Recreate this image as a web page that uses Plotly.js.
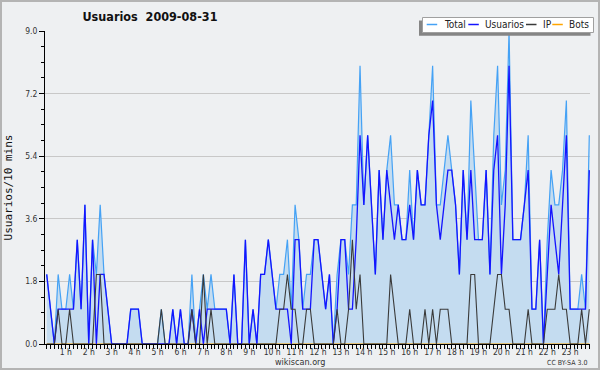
<!DOCTYPE html>
<html><head><meta charset="utf-8">
<script src="https://cdn.plot.ly/plotly-3.0.1.min.js"></script>
<style>
html,body{margin:0;padding:0;background:#eef0f2;}
#wrap{position:relative;width:600px;height:370px;overflow:hidden;}
#chart{width:600px;height:370px;}
#frame{position:absolute;left:0;top:0;width:596px;height:366px;border:2px solid #b4b4b4;pointer-events:none;}
</style></head><body>
<div id="wrap"><div id="chart"></div><div id="frame"></div></div>
<script>
// 10-minute slots, 0:10 .. 23:50 (143 slots)
const slotCount = 143;
const usuarios = [2,1,0,1,1,1,1,1,3,1, 4,0,3,0,2,2,1,0,0,0, 0,0,1,1,1,0,0,0,0,0, 0,0,0,1,0,1,0,0,1,0,
  1,0,1,1,1,1,1,1,0,2, 0,0,3,0,1,0,2,2,3,2, 1,1,1,1,0,3,3,1,1,1, 3,3,2,1,2,0,1,3,3,1,
  1,3,6,4,6,4,2,5,3,5, 4,3,4,3,3,4,3,5,4,4, 6,7,4,3,4,5,5,4,2,5, 3,5,3,3,3,5,2,5,6,2,
  4,8,3,3,3,4,5,1,1,3, 0,2,4,3,2,4,6,1,1,1, 1,1,5];
const total = [2,1,0,2,1,1,2,1,3,1, 4,0,3,2,4,2,1,0,0,0, 0,0,1,1,1,0,0,0,0,0, 1,0,0,1,0,1,0,0,2,0,
  1,2,1,2,1,1,1,1,0,2, 0,0,3,0,1,0,2,2,3,2, 1,2,2,3,1,4,3,1,2,2, 3,3,2,1,2,0,2,3,3,2,
  4,4,8,4,6,4,2,5,3,5, 6,4,4,3,3,5,3,5,4,4, 6,8,4,4,5,6,5,4,2,5, 3,7,5,3,3,5,2,6,8,4,
  5,9,3,3,3,4,6,1,1,3, 0,3,5,4,4,5,7,1,1,1, 2,1,6];
const ip = [0,0,0,1,0,0,1,0,0,0, 0,0,0,2,2,0,0,0,0,0, 0,0,0,0,0,0,0,0,0,0, 1,0,0,0,0,0,0,0,1,0,
  0,2,0,1,0,0,0,0,0,0, 0,0,0,0,0,0,0,0,0,0, 0,1,1,2,1,1,0,0,1,1, 0,0,0,0,0,0,1,0,0,1,
  3,1,2,0,0,0,0,0,0,0, 2,1,0,0,0,1,0,0,0,1, 0,1,0,1,1,1,0,0,0,0, 0,2,2,0,0,0,0,1,2,2,
  1,1,0,0,0,0,1,0,0,0, 0,1,1,1,2,1,1,0,0,0, 1,0,1];
const bots = [0,0,0,0,0,0,0,0,0,0, 0,0,0,0,0,0,0,0,0,0, 0,0,0,0,0,0,0,0,0,0, 0,0,0,0,0,0,0,0,0,0,
  0,0,0,0,0,0,0,0,0,0, 0,0,0,0,0,0,0,0,0,0, 0,0,0,0,0,0,0,0,0,0, 0,0,0,0,0,0,0,0,0,0,
  0,0,0,0,0,0,0,0,0,0, 0,0,0,0,0,0,0,0,0,0, 0,0,0,0,0,0,0,0,0,0, 0,0,0,0,0,0,0,0,0,0,
  0,0,0,0,0,0,0,0,0,0, 0,0,0,0,0,0,0,0,0,0, 0,0,0];
const hourTicks = [1,2,3,4,5,6,7,8,9,10,11,12,13,14,15,16,17,18,19,20,21,22,23];
const hourLabels = ['1 h','2 h','3 h','4 h','5 h','6 h','7 h','8 h','9 h','10 h','11 h','12 h',
  '13 h','14 h','15 h','16 h','17 h','18 h','19 h','20 h','21 h','22 h','23 h'];
const yTicks = [0, 1.8, 3.6, 5.4, 7.2, 9.0];
const yLabels = ['0.0','1.8','3.6','5.4','7.2','9.0'];
const seriesNames = ['Total','Usuarios','IP','Bots'];
const seriesColors = ['#45a2f5', '#1414ff', '#3a3a3a', '#ffa500'];

const slots = [];
for (let k = 0; k < slotCount; k++) slots.push((k + 1) / 6);

const F = '"DejaVu Sans Condensed", "DejaVu Sans", sans-serif';
const M = {l: 45, r: 10, t: 31, b: 26};
const W = 600, H = 370;
const pw = W - M.l - M.r, ph = H - M.t - M.b;
const px = x => (x - M.l) / pw;       // figure pixel -> paper x
const py = y => (H - M.b - y) / ph;   // figure pixel -> paper y

const traces = [
  {x: slots, y: total, name: seriesNames[0], type: 'scatter', mode: 'lines', fill: 'tozeroy',
   fillcolor: '#c4dcf0', line: {color: seriesColors[0], width: 1.2}},
  {x: slots, y: bots, name: seriesNames[3], type: 'scatter', mode: 'lines',
   line: {color: seriesColors[3], width: 1.2}},
  {x: slots, y: usuarios, name: seriesNames[1], type: 'scatter', mode: 'lines',
   line: {color: seriesColors[1], width: 1.3}},
  {x: slots, y: ip, name: seriesNames[2], type: 'scatter', mode: 'lines',
   line: {color: seriesColors[2], width: 1.1}}
];

// compact legend (box, shadow, swatches, labels)
const legendLineX = [426.7, 468.3, 526.0, 552.3];
const legendTextX = [441.5, 483.0, 541.0, 567.0];
const legY = 24.5;
const shapes = [
  {type: 'rect', xref: 'paper', yref: 'paper', x0: px(419), x1: px(590.5), y0: py(35.8), y1: py(20.5),
   fillcolor: '#858585', line: {width: 0}, layer: 'above'},
  {type: 'rect', xref: 'paper', yref: 'paper', x0: px(422.5), x1: px(593.5), y0: py(32.5), y1: py(17.5),
   fillcolor: '#ffffff', line: {width: 1, color: '#a0a0a0'}, layer: 'above'}
];
const annotations = [
  {text: 'wikiscan.org', xref: 'paper', yref: 'paper', x: px(300), y: py(362), showarrow: false,
   font: {family: F, size: 9, color: '#333'}, xanchor: 'center', yanchor: 'middle'},
  {text: 'CC BY-SA 3.0', xref: 'paper', yref: 'paper', x: px(567), y: py(362.5), showarrow: false,
   font: {family: F, size: 7, color: '#333'}, xanchor: 'center', yanchor: 'middle'}
];
seriesNames.forEach((n, k) => {
  shapes.push({type: 'line', xref: 'paper', yref: 'paper', x0: px(legendLineX[k]), x1: px(legendLineX[k] + 10.5),
    y0: py(legY), y1: py(legY), line: {color: seriesColors[k], width: 1.5}, layer: 'above'});
  annotations.push({text: n, xref: 'paper', yref: 'paper', x: px(legendTextX[k]), y: py(legY),
    showarrow: false, xanchor: 'left', yanchor: 'middle', font: {family: F, size: 10, color: '#222'}});
});

const layout = {
  width: W, height: H,
  paper_bgcolor: '#eef0f2', plot_bgcolor: '#eef0f2',
  margin: M,
  font: {family: F, color: '#222'},
  title: {text: 'Usuarios\u00a0 2009-08-31', font: {family: F, size: 12.5, color: '#111', weight: 'bold'},
    x: 0.25, xref: 'container', xanchor: 'center', y: 1 - 17/370, yref: 'container', yanchor: 'middle'},
  xaxis: {range: [0.0925, 23.864], tickmode: 'array', tickvals: hourTicks, ticktext: hourLabels,
    ticks: 'outside', ticklen: 4, tickcolor: '#000', tickwidth: 1,
    showline: true, linecolor: '#000', linewidth: 1, showgrid: false, zeroline: false,
    tickfont: {family: F, size: 8.5, color: '#333'}, ticklabelstandoff: -4,
    minor: {tickmode: 'linear', tick0: 0, dtick: 1/6, ticks: 'outside', ticklen: 4, tickcolor: '#000', showgrid: false},
    fixedrange: true},
  yaxis: {range: [0, 9], tickmode: 'array', tickvals: yTicks, ticktext: yLabels,
    ticks: 'outside', ticklen: 5, tickcolor: '#000', showline: true, linecolor: '#000', linewidth: 1,
    gridcolor: '#c8c8c8', gridwidth: 1, zeroline: false,
    tickfont: {family: F, size: 8.5, color: '#333'},
    minor: {tickmode: 'linear', tick0: 0, dtick: 0.45, ticks: 'outside', ticklen: 3, tickcolor: '#000', showgrid: false},
    title: {text: 'Usuarios/10 mins', font: {family: '"DejaVu Sans Mono", monospace', size: 11, color: '#111'}, standoff: 10},
    fixedrange: true},
  showlegend: false,
  shapes: shapes,
  annotations: annotations
};

Plotly.newPlot('chart', traces, layout, {displayModeBar: false, staticPlot: true});
</script>
</body></html>
